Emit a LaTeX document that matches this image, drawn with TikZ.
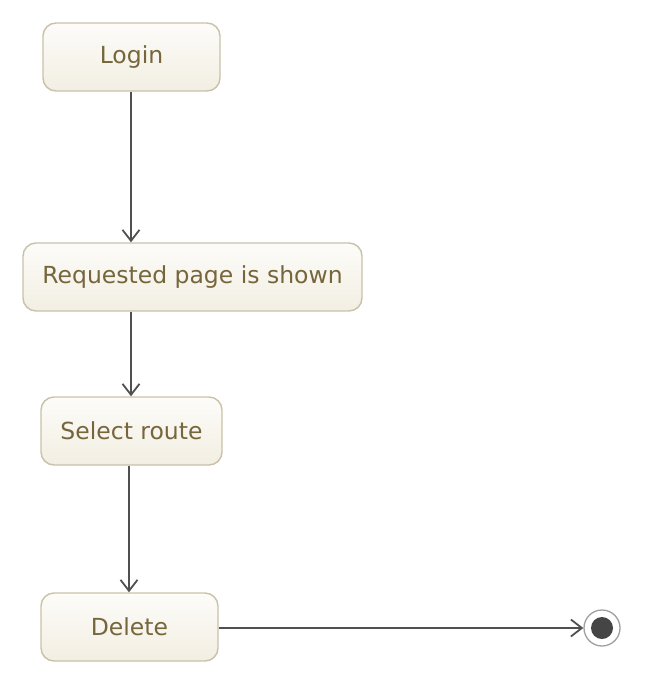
\documentclass[tikz,border=0pt]{standalone}
\usepackage{fontspec}
\setmainfont{DejaVu Sans}
\usetikzlibrary{arrows.meta}
\definecolor{boxborder}{HTML}{C9C1A8}
\definecolor{boxtop}{HTML}{FDFCF9}
\definecolor{boxbot}{HTML}{F2EEE2}
\definecolor{boxtext}{HTML}{76663C}
\definecolor{edgecol}{HTML}{505050}
\definecolor{finalcol}{HTML}{454545}
\tikzset{
  statebox/.style={draw=boxborder, line width=1.4pt, rounded corners=13pt,
    top color=boxtop, bottom color=boxbot, text=boxtext,
    font=\fontsize{23.5}{27}\selectfont, inner sep=0pt, anchor=center},
  flow/.style={draw=edgecol, line width=2.1pt,
    -{Straight Barb[length=11pt, width=17pt, line width=1.8pt]}},
}
\begin{document}
\begin{tikzpicture}[x=1pt, y=-1pt]
\useasboundingbox (0,0) rectangle (646,678);
\node[statebox, minimum width=177pt, minimum height=68pt] (login) at (131.5,57) {Login};
\node[statebox, minimum width=339pt, minimum height=68pt] (req) at (192.5,277) {Requested page is shown};
\node[statebox, minimum width=181pt, minimum height=68pt] (sel) at (131.5,431) {Select route};
\node[statebox, minimum width=177pt, minimum height=68pt] (del) at (129.5,627) {Delete};
\node[circle, draw=gray!75, line width=1.3pt, minimum size=36pt, inner sep=0pt] (final) at (602,628) {};
\fill[finalcol] (final.center) circle (11pt);
\draw[flow] (login.south -| 131,0) -- (req.north -| 131,0);
\draw[flow] (req.south -| 131,0) -- (sel.north -| 131,0);
\draw[flow] (sel.south -| 129,0) -- (del.north -| 129,0);
\draw[flow] (del.east |- 0,628) -- (final.west);
\end{tikzpicture}
\end{document}
